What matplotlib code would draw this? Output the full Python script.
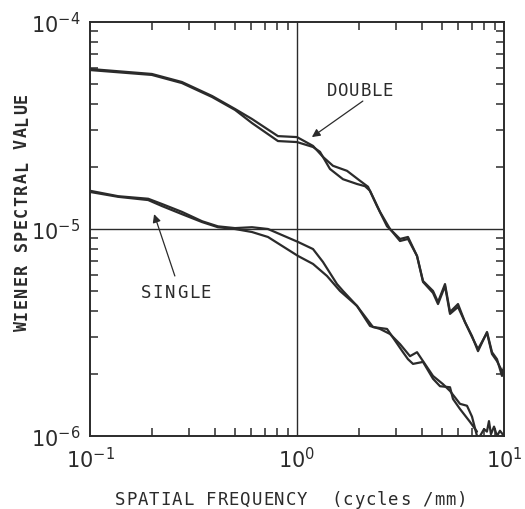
import matplotlib
matplotlib.use("Agg")
import matplotlib.pyplot as plt
from matplotlib.ticker import LogLocator, NullFormatter

# spatial frequency (cycles/mm) and Wiener spectral value
double_a_f = [0.1, 0.199, 0.278, 0.389, 0.502, 0.606, 0.809, 1.0, 1.195, 1.335, 1.492, 1.744,
              2.015, 2.203, 2.435, 2.722, 2.910, 3.145, 3.437, 3.800, 4.062, 4.540, 4.800,
              5.188, 5.485, 5.995, 6.479, 7.005, 7.489, 8.277, 8.750, 9.25, 9.779, 10.0]
double_a_w = [5.93e-5, 5.61e-5, 5.13e-5, 4.39e-5, 3.80e-5, 3.40e-5, 2.81e-5, 2.78e-5, 2.52e-5,
              2.23e-5, 2.02e-5, 1.91e-5, 1.71e-5, 1.60e-5, 1.29e-5, 1.03e-5, 9.67e-6, 8.95e-6,
              9.15e-6, 7.41e-6, 5.61e-6, 5.02e-6, 4.44e-6, 5.42e-6, 3.97e-6, 4.34e-6, 3.55e-6,
              3.04e-6, 2.57e-6, 3.18e-6, 2.54e-6, 2.35e-6, 1.95e-6, 2.15e-6]

double_b_f = [0.1, 0.199, 0.278, 0.389, 0.502, 0.606, 0.809, 1.0, 1.195, 1.291, 1.443, 1.668,
              1.949, 2.131, 2.253, 2.518, 2.814, 3.145, 3.437, 3.800, 4.062, 4.540, 4.800,
              5.188, 5.485, 5.995, 6.479, 7.005, 7.489, 8.277, 8.750, 9.25, 9.779, 10.0]
double_b_w = [5.86e-5, 5.55e-5, 5.07e-5, 4.34e-5, 3.76e-5, 3.25e-5, 2.66e-5, 2.63e-5, 2.49e-5,
              2.36e-5, 1.95e-5, 1.74e-5, 1.65e-5, 1.61e-5, 1.53e-5, 1.21e-5, 1.00e-5, 8.75e-6,
              8.95e-6, 7.41e-6, 5.55e-6, 4.91e-6, 4.34e-6, 5.30e-6, 3.89e-6, 4.20e-6, 3.55e-6,
              3.01e-6, 2.63e-6, 3.15e-6, 2.49e-6, 2.30e-6, 2.06e-6, 2.10e-6]

single_a_f = [0.1, 0.137, 0.191, 0.223, 0.278, 0.348, 0.415, 0.502, 0.606, 0.724, 1.011, 1.195,
              1.335, 1.560, 1.668, 1.949, 2.253, 2.518, 2.814, 3.145, 3.515, 3.800, 4.062,
              4.540, 5.074, 5.485, 6.130, 6.626, 7.005, 7.406]
single_a_w = [1.53e-5, 1.44e-5, 1.40e-5, 1.32e-5, 1.21e-5, 1.09e-5, 1.03e-5, 1.01e-5, 1.02e-5,
              1.00e-5, 8.66e-6, 8.00e-6, 6.93e-6, 5.42e-6, 5.02e-6, 4.25e-6, 3.40e-6, 3.29e-6,
              3.11e-6, 2.78e-6, 2.43e-6, 2.54e-6, 2.30e-6, 1.95e-6, 1.78e-6, 1.65e-6, 1.43e-6,
              1.40e-6, 1.24e-6, 1.00e-6]

single_b_f = [0.1, 0.137, 0.191, 0.223, 0.278, 0.348, 0.415, 0.502, 0.606, 0.724, 1.011, 1.195,
              1.396, 1.613, 1.949, 2.328, 2.722, 3.251, 3.437, 3.634, 4.062, 4.540, 4.908,
              5.485, 5.670, 6.130, 6.851, 7.406]
single_b_w = [1.51e-5, 1.43e-5, 1.38e-5, 1.29e-5, 1.18e-5, 1.08e-5, 1.02e-5, 1.00e-5, 9.67e-6,
              9.15e-6, 7.41e-6, 6.78e-6, 5.93e-6, 5.02e-6, 4.25e-6, 3.36e-6, 3.29e-6, 2.54e-6,
              2.35e-6, 2.23e-6, 2.28e-6, 1.89e-6, 1.74e-6, 1.72e-6, 1.51e-6, 1.35e-6, 1.17e-6,
              1.05e-6]

# noisy tail of the single curves along the bottom axis
tail_f = [7.66, 8.01, 8.27, 8.46, 8.65, 8.95, 9.25, 9.56, 10.0]
tail_w = [1.0e-6, 1.08e-6, 1.05e-6, 1.18e-6, 1.02e-6, 1.11e-6, 1.0e-6, 1.06e-6, 1.0e-6]

# arrow head / tail points for the two curve labels (data coords)
double_arrow = [(1.18, 2.78e-5), (2.08, 4.15e-5)]
single_arrow = [(0.204, 1.18e-5), (0.257, 5.93e-6)]

W, H = 525, 510
ink = "#2b2b2b"
mono = "DejaVu Sans Mono"


def lettered(fig, cx, cy, s, pitch, size, rotation=0, weight="normal"):
    """Place characters at a fixed pitch (old-style stencil lettering).
    cx, cy: pixel centre along the line and baseline, y measured from the top."""
    n = len(s)
    for i, ch in enumerate(s):
        off = (i - (n - 1) / 2) * pitch
        if rotation == 0:
            x, y = cx + off, cy
        else:
            x, y = cx, cy - off
        fig.text(x / W, 1 - y / H, ch, ha="center", va="baseline", rotation=rotation,
                 rotation_mode="anchor", fontsize=size, family=mono, fontweight=weight,
                 color=ink)


fig = plt.figure(figsize=(W / 100, H / 100), dpi=100)
ax = fig.add_axes([90 / W, 1 - 437 / H, 414 / W, 414 / H])
ax.set_xscale("log")
ax.set_yscale("log")
ax.set_xlim(0.1, 10)
ax.set_ylim(1e-6, 1e-4)

for f, w in [(double_a_f, double_a_w), (double_b_f, double_b_w),
             (single_a_f, single_a_w), (single_b_f, single_b_w), (tail_f, tail_w)]:
    ax.plot(f, w, color=ink, lw=1.6, solid_joinstyle="round", solid_capstyle="round")

ax.axvline(1.0, color=ink, lw=1.0)
ax.axhline(1e-5, color=ink, lw=1.0)

for s in ax.spines.values():
    s.set_linewidth(1.4)
    s.set_color(ink)

ax.xaxis.set_major_locator(LogLocator(base=10, numticks=10))
ax.yaxis.set_major_locator(LogLocator(base=10, numticks=10))
ax.xaxis.set_minor_locator(LogLocator(base=10, subs=range(2, 10), numticks=20))
ax.yaxis.set_minor_locator(LogLocator(base=10, subs=range(2, 10), numticks=20))
ax.xaxis.set_minor_formatter(NullFormatter())
ax.yaxis.set_minor_formatter(NullFormatter())
ax.tick_params(which="both", direction="in", top=True, right=True, color=ink)
ax.tick_params(which="major", length=0, labelsize=15, pad=7, labelcolor=ink)
ax.tick_params(which="minor", length=6, width=1.1)

for head, tail in (double_arrow, single_arrow):
    ax.annotate("", xy=head, xytext=tail,
                arrowprops=dict(arrowstyle="-|>", color=ink, lw=0.9, shrinkA=0, shrinkB=0,
                                mutation_scale=12))

lettered(fig, 360, 96, "DOUBLE", 11, 12.5)
lettered(fig, 176, 298, "SINGLE", 12, 12.5)
lettered(fig, 291, 505, "SPATIAL FREQUENCY  (cycles /mm)", 11.4, 12.5)
lettered(fig, 27, 212, "WIENER SPECTRAL VALUE", 11.4, 12, rotation=90, weight="bold")

fig.savefig("out.png", dpi=100)
